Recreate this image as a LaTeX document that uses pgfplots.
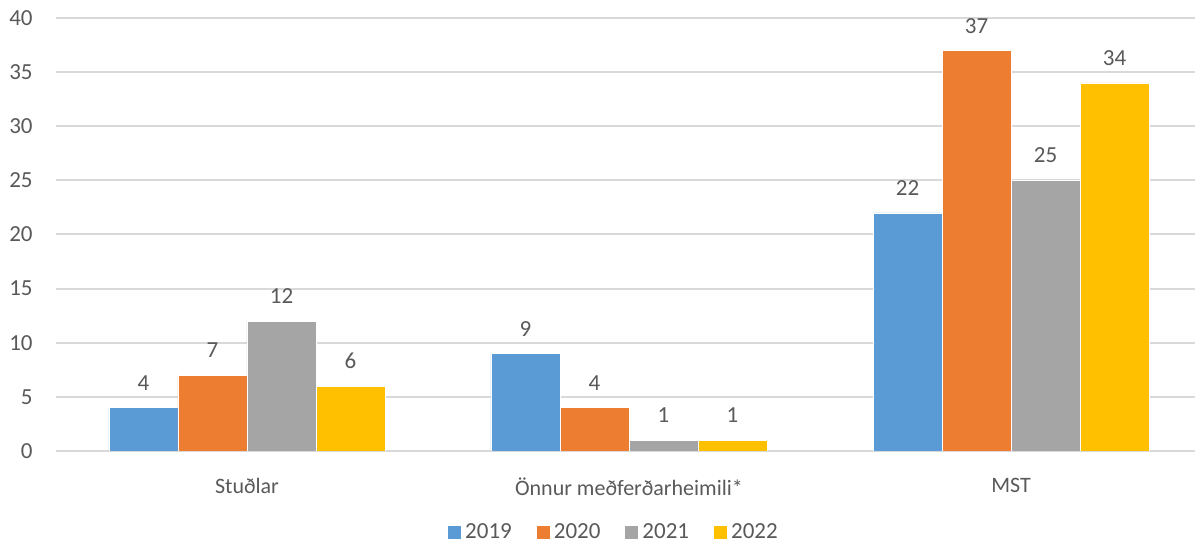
\documentclass[border=0pt]{standalone}
\usepackage{fontspec}
\setmainfont{Carlito}
\usepackage{pgfplots}
\pgfplotsset{compat=1.18}
\definecolor{c19}{HTML}{5B9BD5}
\definecolor{c20}{HTML}{ED7D31}
\definecolor{c21}{HTML}{A5A5A5}
\definecolor{c22}{HTML}{FFC000}
\definecolor{txt}{HTML}{595959}
\definecolor{grd}{HTML}{D9D9D9}
\begin{document}
\begin{tikzpicture}
\path[use as bounding box] (0,0) rectangle (597.5pt,272.5pt);
\begin{axis}[
  at={(28pt,47pt)}, anchor=south west,
  scale only axis, width=573pt, height=216.5pt,
  ybar=0pt, bar width=34.5pt,
  xmin=-0.5, xmax=2.5, ymin=0, ymax=40,
  xtick=data, xticklabels={Stuðlar, Önnur meðferðarheimili*, MST},
  ytick={0,5,...,40},
  axis line style={draw=none},
  tick style={draw=none},
  ymajorgrids, major grid style={draw=grd, line width=1pt},
  font=\fontsize{11.5}{14}\selectfont,
  /pgf/number format/assume math mode=true,
  ticklabel style={text=txt, inner sep=0pt},
  yticklabel style={xshift=-11.5pt},
  xticklabel style={yshift=-9pt, font=\fontsize{11}{14}\selectfont},
  nodes near coords,
  every node near coord/.append style={text=txt, inner sep=0pt, yshift=8.5pt, font=\fontsize{11.5}{14}\selectfont},
  legend columns=-1,
  legend style={at={(axis description cs:0.5,0)}, anchor=center, xshift=-7pt, yshift=-41pt, draw=none, text=txt, font=\fontsize{11.5}{14}\selectfont,
    /tikz/every even column/.append style={column sep=10.5pt}},
  legend image code/.code={\fill[#1, draw=none] (0pt,-3.25pt) rectangle (6.5pt,3.25pt);},
]
\addplot[fill=c19, draw=white, line width=0.3pt] coordinates {(0,4) (1,9) (2,22)};
\addplot[fill=c20, draw=white, line width=0.3pt] coordinates {(0,7) (1,4) (2,37)};
\addplot[fill=c21, draw=white, line width=0.3pt] coordinates {(0,12) (1,1) (2,25)};
\addplot[fill=c22, draw=white, line width=0.3pt] coordinates {(0,6) (1,1) (2,34)};
\legend{2019,2020,2021,2022}
\end{axis}
\end{tikzpicture}
\end{document}
